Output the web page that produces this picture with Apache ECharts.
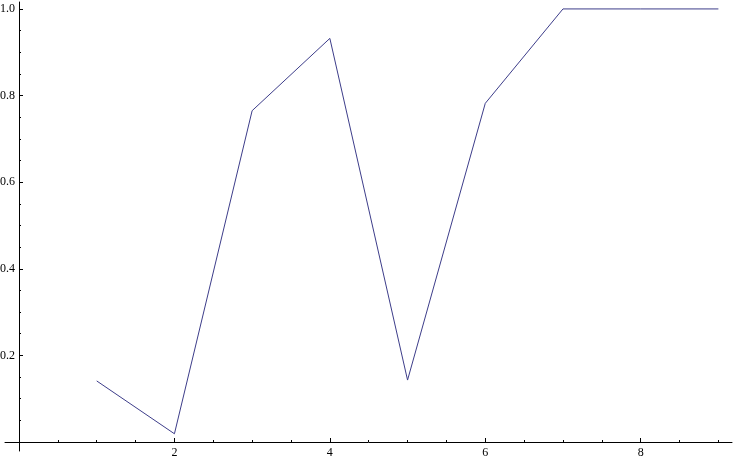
<!DOCTYPE html>
<html>
<head>
<meta charset="utf-8">
<script src="https://cdn.jsdelivr.net/npm/echarts@6/dist/echarts.min.js"></script>
<style>
  html, body { margin: 0; padding: 0; background: #fff; }
  #main { width: 734px; height: 463px; }
</style>
</head>
<body>
<div id="main"></div>
<script>
// data
var xValues = [1, 2, 3, 4, 5, 6, 7, 8, 9];
var yValues = [0.141, 0.019, 0.765, 0.932, 0.143, 0.782, 1.0, 1.0, 1.0];
var xTickLabels = [2, 4, 6, 8];
var yTickLabels = [0.2, 0.4, 0.6, 0.8, 1.0];

var points = [];
xValues.forEach(function (x, i) {
    points.push([x, yValues[i]]);
});

var myChart = echarts.init(document.getElementById('main'));

var labelFont = {
    fontFamily: 'Liberation Serif',
    fontSize: 12,
    color: '#000'
};

var xMax = 9.175, yMax = 1.016;

var option = {
    animation: false,
    backgroundColor: '#fff',
    grid: [
        // data grid: its left/bottom edges are x=0 and y=0
        { left: 19, right: 2, top: 2, bottom: 21, containLabel: false, outerBoundsMode: 'none' },
        // only the axis lines, a bit longer than the data grid (like Mathematica's axes)
        { left: 5, right: 2, top: 2, bottom: 12, containLabel: false, outerBoundsMode: 'none' }
    ],
    xAxis: [{
        type: 'value',
        gridIndex: 0,
        min: 0,
        max: xMax,
        axisLine: { show: false },
        axisTick: { show: true, inside: true, length: 4, customValues: xTickLabels, lineStyle: { color: '#000' } },
        minorTick: { show: true, splitNumber: 4, length: 2, lineStyle: { color: '#000' } },
        axisLabel: Object.assign({ margin: 5, customValues: xTickLabels, formatter: function (v) { return String(v); } }, labelFont),
        splitLine: { show: false }
    }, {
        type: 'value',
        gridIndex: 1,
        min: -0.18,
        max: xMax,
        axisLine: { show: true, onZero: true, lineStyle: { color: '#000', width: 1 } },
        axisTick: { show: false },
        axisLabel: { show: false },
        splitLine: { show: false }
    }],
    yAxis: [{
        type: 'value',
        gridIndex: 0,
        min: 0,
        max: yMax,
        axisLine: { show: false },
        axisTick: { show: true, inside: true, length: 4, customValues: yTickLabels, lineStyle: { color: '#000' } },
        minorTick: { show: true, splitNumber: 4, length: 2, lineStyle: { color: '#000' } },
        axisLabel: Object.assign({ margin: 4, customValues: yTickLabels, formatter: function (v) { return v.toFixed(1); } }, labelFont),
        splitLine: { show: false }
    }, {
        type: 'value',
        gridIndex: 1,
        min: -0.021,
        max: yMax,
        axisLine: { show: true, onZero: true, lineStyle: { color: '#000', width: 1 } },
        axisTick: { show: false },
        axisLabel: { show: false },
        splitLine: { show: false }
    }],
    series: [{
        type: 'line',
        xAxisIndex: 0,
        yAxisIndex: 0,
        data: points,
        showSymbol: false,
        symbol: 'none',
        clip: false,
        lineStyle: { color: '#3d3d8a', width: 1 }
    }]
};

myChart.setOption(option);
</script>
</body>
</html>
